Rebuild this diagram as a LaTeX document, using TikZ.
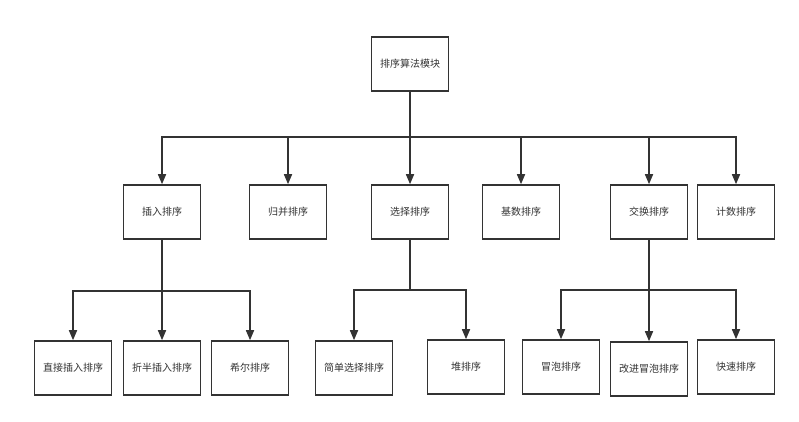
\documentclass[tikz,border=0pt]{standalone}
\usepackage{fontspec}
\setmainfont{Noto Sans CJK SC}
\usetikzlibrary{arrows.meta}
\definecolor{linec}{HTML}{333333}
\definecolor{textc}{HTML}{333333}
\begin{document}
\begin{tikzpicture}[x=1pt,y=-1pt,
  box/.style={draw=linec, line width=1.6pt, minimum width=77pt, minimum height=54pt, inner sep=0pt, fill=white, text=textc, font=\fontsize{10}{12}\selectfont},
  conn/.style={draw=linec, line width=1.6pt},
  arr/.style={conn, -{Triangle[length=10pt,width=8pt]}}]
\useasboundingbox[fill=white] (0,0) rectangle (799,421);
% root
\node[box] (root) at (410,64) {排序算法模块};
% level 2
\node[box] (ins) at (162,212) {插入排序};
\node[box] (mrg) at (288,212) {归并排序};
\node[box] (sel) at (410,212) {选择排序};
\node[box] (rad) at (521,212) {基数排序};
\node[box] (exc) at (649,212) {交换排序};
\node[box] (cnt) at (736,212) {计数排序};
% level 3
\node[box] (ins1) at (73,368) {直接插入排序};
\node[box] (ins2) at (162,368) {折半插入排序};
\node[box] (ins3) at (250,368) {希尔排序};
\node[box] (sel1) at (354,368) {简单选择排序};
\node[box] (sel2) at (466,367) {堆排序};
\node[box] (exc1) at (561,367) {冒泡排序};
\node[box] (exc2) at (649,369) {改进冒泡排序};
\node[box] (exc3) at (736,367) {快速排序};
% bus coordinates
\coordinate (b0) at (410,137);
\coordinate (b1) at (162,291);
\coordinate (b2) at (410,290);
\coordinate (b3) at (649,290);
% root connectors
\draw[conn] (root.south) -- (b0);
\foreach \c in {ins,mrg,sel,rad,exc,cnt} \draw[arr] (b0) -| (\c.north);
% insertion
\draw[conn] (ins.south) -- (b1);
\foreach \c in {ins1,ins2,ins3} \draw[arr] (b1) -| (\c.north);
% selection
\draw[conn] (sel.south) -- (b2);
\foreach \c in {sel1,sel2} \draw[arr] (b2) -| (\c.north);
% exchange
\draw[conn] (exc.south) -- (b3);
\foreach \c in {exc1,exc2,exc3} \draw[arr] (b3) -| (\c.north);
\end{tikzpicture}
\end{document}
